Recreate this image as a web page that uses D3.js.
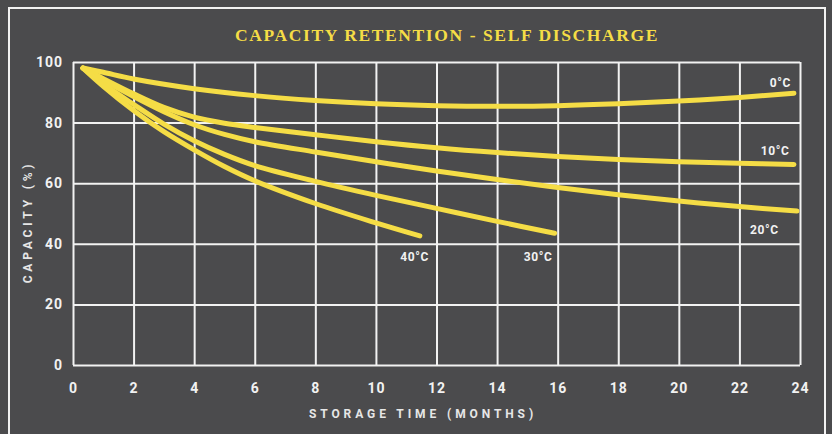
<!DOCTYPE html>
<html>
<head>
<meta charset="utf-8">
<script src="https://cdn.jsdelivr.net/npm/d3@7"></script>
<style>
  html, body { margin: 0; padding: 0; background: #4b4b4d; }
  svg { display: block; }
</style>
</head>
<body>
<div id="chart"></div>
<script>
// months / capacity (%)
const months0  = [0.33, 1, 2, 4, 6, 8, 10, 12, 14, 16, 18, 20, 22, 23.8];
const cap0     = [98, 96.6, 94.4, 91.2, 88.9, 87.3, 86.2, 85.6, 85.4, 85.6, 86.2, 87.1, 88.3, 89.7];
const months10 = [0.33, 1, 2, 3, 4, 5, 6, 8, 10, 12, 14, 16, 18, 20, 22, 23.8];
const cap10    = [98, 94.5, 89.5, 85, 81.8, 79.8, 78.4, 76.0, 73.7, 71.7, 70.1, 68.8, 67.8, 67.1, 66.6, 66.2];
const months20 = [0.33, 1, 2, 3, 4, 5, 6, 8, 10, 12, 14, 16, 18, 20, 22, 23.9];
const cap20    = [98, 94, 88.6, 83.6, 79.3, 76.1, 73.7, 70.3, 67.1, 64.0, 61.2, 58.6, 56.2, 54.1, 52.3, 50.8];
const months30 = [0.33, 1, 2, 3, 4, 5, 6, 8, 10, 12, 14, 15.9];
const cap30    = [98, 92.8, 86, 79.5, 74, 69.5, 65.8, 60.6, 56.0, 51.7, 47.4, 43.5];
const months40 = [0.33, 1, 2, 3, 4, 5, 6, 8, 10, 11.45];
const cap40    = [98, 92, 84, 77, 71, 65.5, 60.8, 53.3, 46.9, 42.6];

const seriesNames = ["0\u00B0C", "10\u00B0C", "20\u00B0C", "30\u00B0C", "40\u00B0C"];
// label anchor (right edge, middle) in data units
const labelMonth = [23.7, 23.65, 23.3, 15.83, 11.75];
const labelCap   = [93, 70.7, 44.5, 35.7, 35.7];

const xTicks = [0, 2, 4, 6, 8, 10, 12, 14, 16, 18, 20, 22, 24];
const yTicks = [0, 20, 40, 60, 80, 100];

const W = 832, H = 434;
const margin = { top: 62, right: 32, bottom: 69, left: 73 };
const width = W - margin.left - margin.right,
      height = H - margin.top - margin.bottom;

const yellow = "#f5dd46";
const white = "#f2f2f2";

const svg = d3.select("#chart").append("svg")
    .attr("width", W).attr("height", H)
    .style("background", "#4b4b4d");

// outer frame
svg.append("rect")
    .attr("x", 9).attr("y", 8)
    .attr("width", 816).attr("height", 440)
    .attr("fill", "none").attr("stroke", white).attr("stroke-width", 2);

svg.append("text")
    .attr("x", 447).attr("y", 41)
    .attr("text-anchor", "middle")
    .attr("fill", yellow)
    .style("font-family", "'Liberation Serif', serif")
    .style("font-weight", "bold")
    .style("font-size", "17.5px")
    .style("letter-spacing", "1.6px")
    .text("CAPACITY RETENTION - SELF DISCHARGE");

const g = svg.append("g").attr("transform", `translate(${margin.left},${margin.top})`);

const x = d3.scaleLinear().domain([0, 24]).range([0, width]);
const y = d3.scaleLinear().domain([0, 100]).range([height, 0]);

const xAxis = g.append("g")
    .attr("transform", `translate(0,${height})`)
    .call(d3.axisBottom(x).tickValues(xTicks).tickSize(-height).tickPadding(16));
const yAxis = g.append("g")
    .call(d3.axisLeft(y).tickValues(yTicks).tickSize(-width).tickPadding(10));

[xAxis, yAxis].forEach(a => {
  a.select(".domain").remove();
  a.selectAll("line").attr("stroke", white).attr("stroke-width", 2);
  a.selectAll("text")
    .attr("fill", white)
    .style("font-family", "Roboto, sans-serif")
    .style("font-weight", "bold")
    .style("font-size", "14px")
    .style("letter-spacing", "1px");
});
xAxis.selectAll("text").attr("dy", "0.35em").attr("y", 23);

const line = d3.line()
    .x(d => x(d[0]))
    .y(d => y(d[1]))
    .curve(d3.curveCatmullRom.alpha(0.5));

const allMonths = [months0, months10, months20, months30, months40];
const allCaps = [cap0, cap10, cap20, cap30, cap40];

allMonths.forEach((ms, i) => {
  const pts = ms.map((m, j) => [m, allCaps[i][j]]);
  g.append("path")
    .datum(pts)
    .attr("d", line)
    .attr("fill", "none")
    .attr("stroke", yellow)
    .attr("stroke-width", 5)
    .attr("stroke-linecap", "round");
});

g.selectAll(".lbl")
  .data(seriesNames)
  .join("text")
    .attr("class", "lbl")
    .attr("x", (d, i) => x(labelMonth[i]))
    .attr("y", (d, i) => y(labelCap[i]))
    .attr("dy", "0.35em")
    .attr("text-anchor", "end")
    .attr("fill", white)
    .style("font-family", "Roboto, sans-serif")
    .style("font-weight", "bold")
    .style("font-size", "12px")
    .style("letter-spacing", "0.6px")
    .text(d => d);

// axis titles
svg.append("text")
    .attr("x", 423).attr("y", 414)
    .attr("dy", "0.35em")
    .attr("text-anchor", "middle")
    .attr("fill", "#e6e6e6")
    .style("font-family", "Roboto, sans-serif")
    .style("font-weight", "bold")
    .style("font-size", "12px")
    .style("letter-spacing", "3.9px")
    .text("STORAGE TIME (MONTHS)");

svg.append("text")
    .attr("transform", "translate(28,222) rotate(-90)")
    .attr("dy", "0.35em")
    .attr("text-anchor", "middle")
    .attr("fill", "#e6e6e6")
    .style("font-family", "Roboto, sans-serif")
    .style("font-weight", "bold")
    .style("font-size", "12px")
    .style("letter-spacing", "3.8px")
    .text("CAPACITY (%)");
</script>
</body>
</html>
